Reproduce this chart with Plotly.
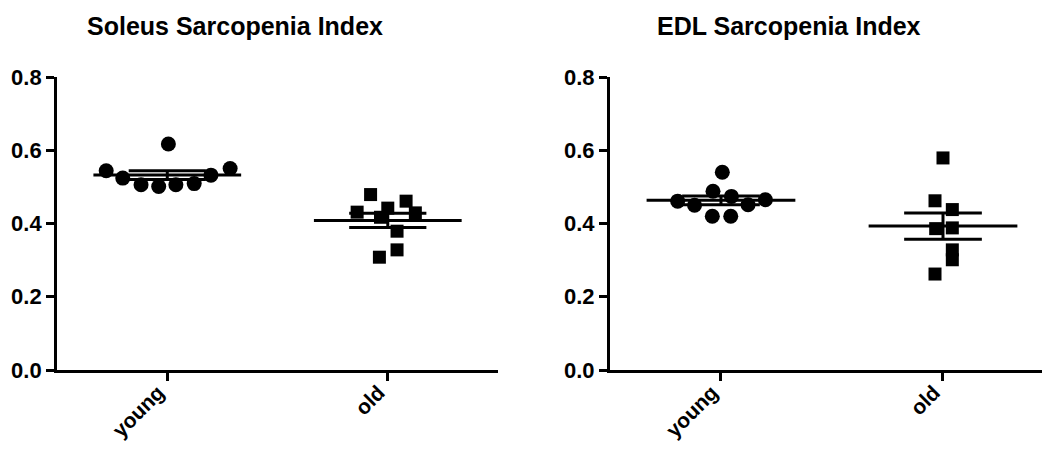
import numpy as np
import plotly.graph_objects as go
from plotly.subplots import make_subplots

groups = ['young', 'old']
titles = ['Soleus Sarcopenia Index', 'EDL Sarcopenia Index']

# Soleus
soleus_young = [0.617, 0.544, 0.524, 0.506, 0.501, 0.506, 0.509, 0.532, 0.550]
soleus_young_jit = [0.005, -0.277, -0.202, -0.119, -0.039, 0.039, 0.122, 0.198, 0.285]
soleus_old = [0.479, 0.461, 0.431, 0.442, 0.429, 0.417, 0.379, 0.328, 0.308]
soleus_old_jit = [-0.078, 0.083, -0.139, 0.0, 0.125, -0.033, 0.042, 0.042, -0.038]

# EDL
edl_young = [0.540, 0.488, 0.461, 0.450, 0.474, 0.451, 0.465, 0.420, 0.420]
edl_young_jit = [0.006, -0.036, -0.195, -0.119, 0.047, 0.122, 0.200, -0.039, 0.044]
edl_old = [0.579, 0.462, 0.438, 0.386, 0.388, 0.328, 0.301, 0.262]
edl_old_jit = [0.0, -0.036, 0.042, -0.033, 0.042, 0.042, 0.042, -0.036]

panels = [
    [(soleus_young, soleus_young_jit, 'circle', 15), (soleus_old, soleus_old_jit, 'square', 13)],
    [(edl_young, edl_young_jit, 'circle', 15), (edl_old, edl_old_jit, 'square', 13)],
]

FONT = 'Liberation Sans, Arial, sans-serif'

fig = make_subplots(rows=1, cols=2)

for col, panel in enumerate(panels, start=1):
    for gi, (vals, jit, sym, size) in enumerate(panel):
        vals = np.array(vals)
        xs = gi + np.array(jit)
        fig.add_trace(go.Scatter(
            x=xs, y=vals, mode='markers',
            marker=dict(symbol=sym, size=size, color='black', line=dict(width=0)),
            showlegend=False, hoverinfo='skip',
        ), row=1, col=col)

        mean = vals.mean()
        sem = vals.std(ddof=1) / np.sqrt(len(vals))
        # mean line, SEM caps and the short vertical joining them
        lx = [gi - 0.335, gi + 0.335, None,
              gi - 0.175, gi + 0.175, None,
              gi - 0.175, gi + 0.175, None,
              gi, gi]
        ly = [mean, mean, None,
              mean + sem, mean + sem, None,
              mean - sem, mean - sem, None,
              mean - sem, mean + sem]
        fig.add_trace(go.Scatter(
            x=lx, y=ly, mode='lines',
            line=dict(color='black', width=3),
            showlegend=False, hoverinfo='skip',
        ), row=1, col=col)

axis_common = dict(
    showline=True, linewidth=3, linecolor='black', mirror=False,
    ticks='outside', ticklen=8, tickwidth=2.5, tickcolor='black',
    showgrid=False, zeroline=False, automargin=False,
)

for i, dom in enumerate([[0.0467, 0.4667], [0.5733, 0.9962]], start=1):
    fig.update_xaxes(
        axis_common, domain=dom, range=[-0.5, 1.5],
        tickvals=[0, 1], ticktext=groups, tickangle=-45,
        ticklabelstandoff=-9, ticklabelshift=-9,
        tickfont=dict(family=FONT, size=21, color='black', weight='bold'),
        row=1, col=i,
    )
    fig.update_yaxes(
        axis_common, range=[0, 0.8],
        tickvals=[0, 0.2, 0.4, 0.6, 0.8], tickformat='.1f',
        tickfont=dict(family=FONT, size=22, color='black', weight='bold'),
        row=1, col=i,
    )

for x0, t in zip([77 / 1050, 647 / 1050], titles):
    fig.add_annotation(
        text=t, xref='paper', yref='paper', x=x0, y=1 + 67 / 293,
        xanchor='left', yanchor='top', showarrow=False,
        font=dict(family=FONT, size=25, color='black', weight='bold'),
    )

fig.update_layout(
    template='none',
    width=1050, height=449,
    margin=dict(l=0, r=0, t=69, b=87),
    paper_bgcolor='white', plot_bgcolor='white',
)

fig.write_html('out.html')
